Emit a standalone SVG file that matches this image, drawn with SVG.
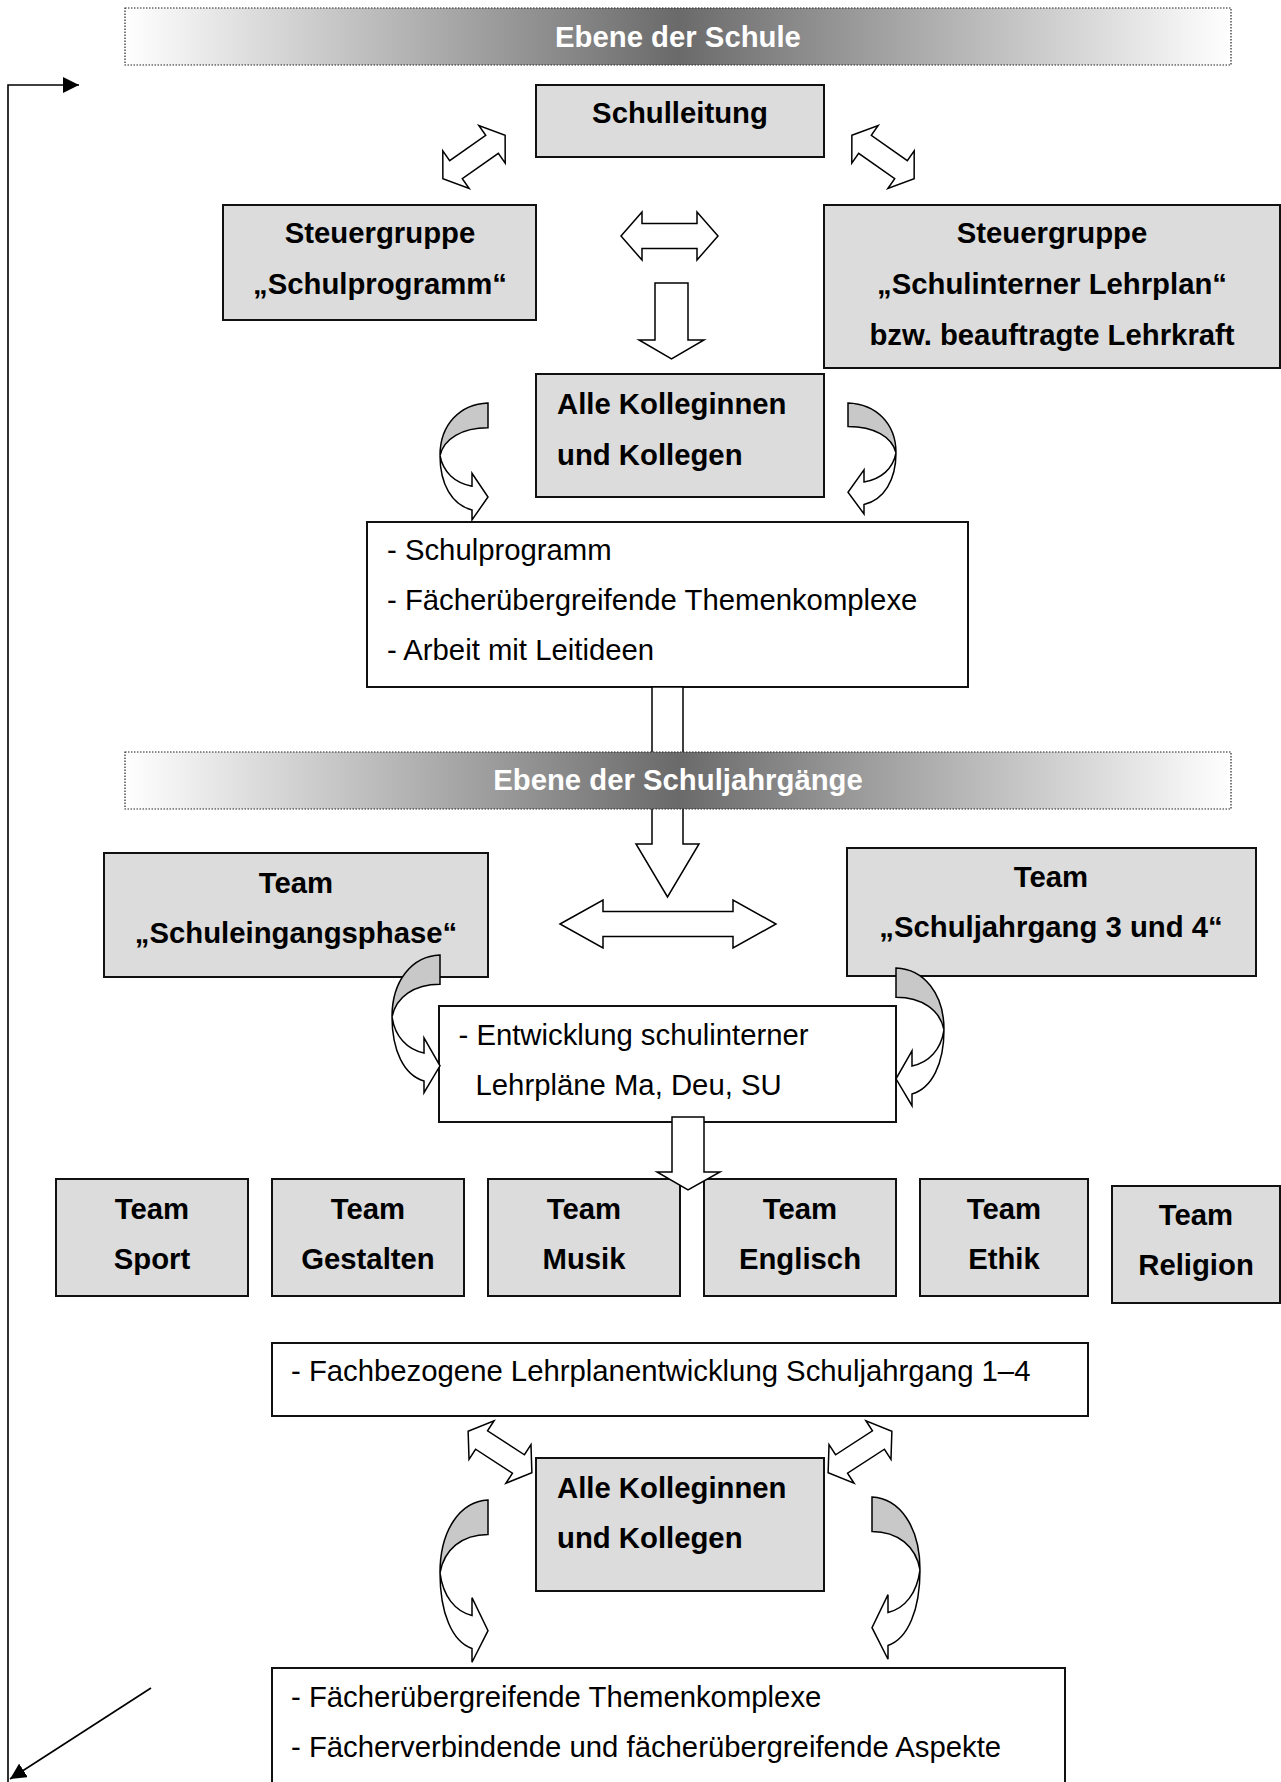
<svg xmlns="http://www.w3.org/2000/svg" xmlns:xlink="http://www.w3.org/1999/xlink" width="1281" height="1782" viewBox="0 0 1281 1782">
<style>
.box{fill:#dcdcdc;stroke:#111;stroke-width:2}
.tbox{fill:#fff;stroke:#111;stroke-width:2}
.banner{fill:url(#bg);stroke:#222;stroke-width:1.2;stroke-dasharray:1.5 1.5}
.b{font-family:"Liberation Sans",Arial,sans-serif;font-weight:bold;font-size:29.3px;fill:#000}
.r{font-family:"Liberation Sans",Arial,sans-serif;font-size:29.3px;fill:#000}
.bt{font-family:"Liberation Sans",Arial,sans-serif;font-weight:bold;font-size:29.3px;fill:#fff}
.arr{fill:#fff;stroke:#000;stroke-width:1.5;stroke-linejoin:miter;vector-effect:non-scaling-stroke}
.gray{fill:#c8c8c8}
.line{fill:none;stroke:#000;stroke-width:1.6}
</style>
<defs>
<linearGradient id="bg" x1="0" y1="0" x2="1" y2="0">
<stop offset="0" stop-color="#ffffff"/>
<stop offset="0.5" stop-color="#6a6a6a"/>
<stop offset="1" stop-color="#ffffff"/>
</linearGradient>
<marker id="tri" markerUnits="userSpaceOnUse" markerWidth="16" markerHeight="16" refX="16" refY="8" orient="auto">
<path d="M0,0 L16,8 L0,16 Z" fill="#000"/>
</marker>
<polygon id="dbl" class="arr" points="-38,0 -22,-23 -22,-11 22,-11 22,-23 38,0 22,23 22,11 -22,11 -22,23"/>
<g id="curv">
<path class="arr gray" d="M48,0 C20,1 0,22 0,53 C4,36 22,25 48,25 Z"/>
<path class="arr" d="M0,53 C3,70 15,81 32,84 L32,71 L48,95 L32,118 L32,108 C12,103 0,82 0,53 Z"/>
</g>
</defs>
<rect width="1281" height="1782" fill="#fff"/>

<g id="schulleitung"><rect class="box" x="536" y="85" width="288" height="72"/><text class="b" x="680" y="123" text-anchor="middle">Schulleitung</text></g>
<g id="steuer-schulprogramm"><rect class="box" x="223" y="205" width="313" height="115"/><text class="b" x="380" y="243" text-anchor="middle">Steuergruppe</text><text class="b" x="380" y="294" text-anchor="middle">„Schulprogramm“</text></g>
<g id="steuer-lehrplan"><rect class="box" x="824" y="205" width="456" height="163"/><text class="b" x="1052" y="243" text-anchor="middle">Steuergruppe</text><text class="b" x="1052" y="294" text-anchor="middle">„Schulinterner Lehrplan“</text><text class="b" x="1052" y="345" text-anchor="middle">bzw. beauftragte Lehrkraft</text></g>
<g id="kollegen1"><rect class="box" x="536" y="374" width="288" height="123"/><text class="b" x="557" y="414">Alle Kolleginnen</text><text class="b" x="557" y="465">und Kollegen</text></g>
<g id="textbox1"><rect class="tbox" x="367" y="522" width="601" height="165"/><text class="r" x="387" y="560">- Schulprogramm</text><text class="r" x="387" y="610">- Fächerübergreifende Themenkomplexe</text><text class="r" x="387" y="660">- Arbeit mit Leitideen</text></g>
<g id="team-eingang"><rect class="box" x="104" y="853" width="384" height="124"/><text class="b" x="296" y="893" text-anchor="middle">Team</text><text class="b" x="296" y="943" text-anchor="middle">„Schuleingangsphase“</text></g>
<g id="team-34"><rect class="box" x="847" y="848" width="409" height="128"/><text class="b" x="1051" y="887" text-anchor="middle">Team</text><text class="b" x="1051" y="937" text-anchor="middle">„Schuljahrgang 3 und 4“</text></g>
<g id="entwicklung"><rect class="tbox" x="439" y="1006" width="457" height="116"/><text class="r" x="458.5" y="1045">- Entwicklung schulinterner</text><text class="r" x="475.5" y="1095">Lehrpläne Ma, Deu, SU</text></g>
<g id="team-sport"><rect class="box" x="56" y="1179" width="192" height="117"/><text class="b" x="152" y="1218.5" text-anchor="middle">Team</text><text class="b" x="152" y="1269" text-anchor="middle">Sport</text></g>
<g id="team-gestalten"><rect class="box" x="272" y="1179" width="192" height="117"/><text class="b" x="368" y="1218.5" text-anchor="middle">Team</text><text class="b" x="368" y="1269" text-anchor="middle">Gestalten</text></g>
<g id="team-musik"><rect class="box" x="488" y="1179" width="192" height="117"/><text class="b" x="584" y="1218.5" text-anchor="middle">Team</text><text class="b" x="584" y="1269" text-anchor="middle">Musik</text></g>
<g id="team-englisch"><rect class="box" x="704" y="1179" width="192" height="117"/><text class="b" x="800" y="1218.5" text-anchor="middle">Team</text><text class="b" x="800" y="1269" text-anchor="middle">Englisch</text></g>
<g id="team-ethik"><rect class="box" x="920" y="1179" width="168" height="117"/><text class="b" x="1004" y="1218.5" text-anchor="middle">Team</text><text class="b" x="1004" y="1269" text-anchor="middle">Ethik</text></g>
<g id="team-religion"><rect class="box" x="1112" y="1186" width="168" height="117"/><text class="b" x="1196" y="1225" text-anchor="middle">Team</text><text class="b" x="1196" y="1275" text-anchor="middle">Religion</text></g>
<g id="fachbezogen"><rect class="tbox" x="272" y="1343" width="816" height="73"/><text class="r" x="291" y="1381">- Fachbezogene Lehrplanentwicklung Schuljahrgang 1–4</text></g>
<g id="kollegen2"><rect class="box" x="536" y="1458" width="288" height="133"/><text class="b" x="557" y="1498">Alle Kolleginnen</text><text class="b" x="557" y="1548">und Kollegen</text></g>
<g id="textbox-bottom"><rect class="tbox" x="272" y="1668" width="793" height="140"/><text class="r" x="291" y="1707">- Fächerübergreifende Themenkomplexe</text><text class="r" x="291" y="1757">- Fächerverbindende und fächerübergreifende Aspekte</text></g>

<g id="connectors">
<use xlink:href="#dbl" transform="translate(474,157) rotate(-35)"/>
<use xlink:href="#dbl" transform="translate(883,157) rotate(35)"/>
<polygon class="arr" points="621,236 642,212 642,223.5 697,223.5 697,212 718,236 697,260 697,248.5 642,248.5 642,260"/>
<polygon class="arr" points="655,283 688,283 688,340 704,340 671.5,359 639,340 655,340"/>
<use xlink:href="#curv" transform="translate(440,403) scale(1,0.99)"/>
<use xlink:href="#curv" transform="translate(896,403) scale(-1,0.94)"/>
<polygon class="arr" points="652,687 683,687 683,844 699,844 667.5,897 636,844 652,844"/>
<polygon class="arr" points="560,924 603,900 603,911.5 733,911.5 733,900 776,924 733,948 733,936.5 603,936.5 603,948"/>
<use xlink:href="#curv" transform="translate(392,955) scale(1,1.167)"/>
<use xlink:href="#curv" transform="translate(944,968) scale(-1,1.167)"/>
<polygon class="arr" points="672,1117 704,1117 704,1172 720,1172 688,1190 657,1172 672,1172"/>
<use xlink:href="#dbl" transform="translate(500,1452) rotate(33)"/>
<use xlink:href="#dbl" transform="translate(860,1452) rotate(-33)"/>
<use xlink:href="#curv" transform="translate(440,1500) scale(1,1.375)"/>
<use xlink:href="#curv" transform="translate(920,1497) scale(-1,1.375)"/>
<polyline class="line" points="8,1782 8,85 79,85" marker-end="url(#tri)"/>
<line class="line" x1="151" y1="1688" x2="10" y2="1779" marker-end="url(#tri)"/>
</g>

<g id="banner-schule"><rect class="banner" x="125" y="8" width="1106" height="57"/><text class="bt" x="678" y="47" text-anchor="middle">Ebene der Schule</text></g>
<g id="banner-jahrgaenge"><rect class="banner" x="125" y="752" width="1106" height="57"/><text class="bt" x="678" y="790" text-anchor="middle">Ebene der Schuljahrgänge</text></g>
</svg>
